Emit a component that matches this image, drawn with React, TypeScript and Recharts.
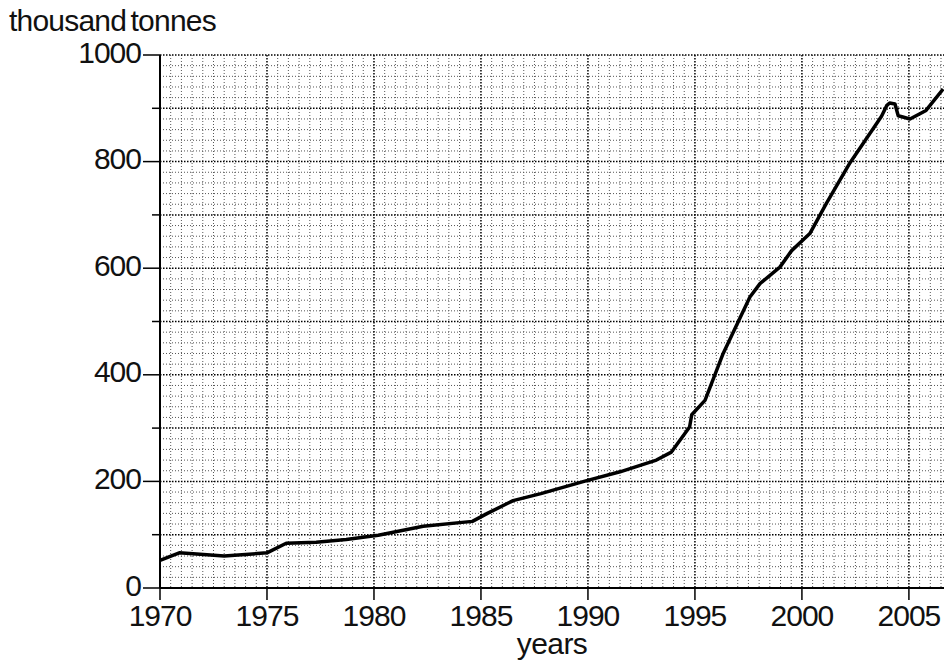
import { LineChart, Line, XAxis, YAxis, CartesianGrid } from "recharts";

// years (fractional where the curve bends between whole years)
const years = [
  1970, 1970.9, 1973, 1975, 1975.9, 1977.3, 1978.7, 1980.2, 1982.3, 1984.6,
  1985.3, 1986.5, 1987.8, 1989.9, 1991.5, 1993.2, 1993.9, 1994.75, 1994.85, 1995.47,
  1996.32, 1997.57, 1998.04, 1998.97, 1999.52, 2000.37, 2001.15, 2002.25, 2003.5, 2003.72,
  2003.96, 2004.1, 2004.35, 2004.5, 2005.05, 2005.8, 2006.6,
];
// thousand tonnes
const tonnes = [
  52, 66, 60, 66, 84, 86, 91, 99, 116, 125,
  140, 164, 177, 201, 218, 240, 255, 302, 325, 352,
  440, 546, 571, 602, 633, 665, 722, 798, 872, 885,
  905, 910, 908, 886, 880, 896, 936,
];

const xTicks = [1970, 1975, 1980, 1985, 1990, 1995, 2000, 2005];
const yTicks = [0, 100, 200, 300, 400, 500, 600, 700, 800, 900, 1000];
const yLabelled = [0, 200, 400, 600, 800, 1000];

const X_MIN = 1970;
const X_MAX = 2006.64;

const data = years.map((year, i) => ({ year, value: tonnes[i] }));

// graph paper: fine lines every half year / 20 kt, dark every 5 years / 100 kt
const minorV: number[] = [];
for (let i = 1; X_MIN + i * 0.5 <= X_MAX; i++) {
  if (i % 10 !== 0) minorV.push(X_MIN + i * 0.5);
}
const majorV = xTicks.filter(t => t > X_MIN);
const minorH: number[] = [];
for (let v = 20; v < 1000; v += 20) {
  if (v % 100 !== 0) minorH.push(v);
}
const majorH = yTicks.filter(t => t > 0);

const font = '"Liberation Sans", Arial, Helvetica, sans-serif';

function YTick(props: any) {
  const { x, y, payload } = props;
  const big = yLabelled.includes(payload.value);
  return (
    <g>
      <line x1={x - (big ? 17 : 8)} x2={x} y1={y} y2={y} stroke="#000" strokeWidth={1.5} />
      {big && (
        <text x={x - 19} y={y + 7.5} textAnchor="end" fontSize={30} letterSpacing={-1} fill="#111" fontFamily={font}>
          {payload.value}
        </text>
      )}
    </g>
  );
}

export default function App() {
  return (
    <div style={{ position: "absolute", left: 0, top: 0, width: 944, height: 666, background: "#fff", fontFamily: font, overflow: "hidden" }}>
      <div style={{ position: "absolute", left: 9, top: 6, fontSize: 30, lineHeight: "30px", color: "#111", letterSpacing: -0.8, wordSpacing: -3, whiteSpace: "nowrap" }}>
        thousand tonnes
      </div>
      <div style={{ position: "absolute", left: 452, width: 200, textAlign: "center", top: 634, fontSize: 30, lineHeight: "20px", color: "#111", letterSpacing: -0.6 }}>
        years
      </div>
      <LineChart width={944} height={666} data={data} margin={{ top: 55, right: 0, bottom: 0, left: 0 }}>
        <CartesianGrid horizontalValues={minorH} verticalValues={minorV} stroke="#555" strokeDasharray="1 2" strokeWidth={1} />
        <CartesianGrid horizontalValues={majorH} verticalValues={majorV} stroke="#000" strokeDasharray="1.5 1.5" strokeWidth={1.5} />
        <XAxis
          dataKey="year"
          type="number"
          domain={[X_MIN, X_MAX]}
          ticks={xTicks}
          interval={0}
          allowDataOverflow
          height={78}
          tickSize={12}
          tickMargin={5}
          axisLine={{ stroke: "#000", strokeWidth: 2 }}
          tickLine={{ stroke: "#000", strokeWidth: 1.5 }}
          tick={{ fontSize: 30, letterSpacing: -1, fill: "#111", fontFamily: font }}
        />
        <YAxis
          type="number"
          domain={[0, 1000]}
          ticks={yTicks}
          interval={0}
          width={160}
          tickSize={0}
          tickMargin={0}
          tickLine={false}
          axisLine={{ stroke: "#000", strokeWidth: 2 }}
          tick={<YTick />}
        />
        <Line
          dataKey="value"
          type="linear"
          stroke="#000"
          strokeWidth={3.5}
          strokeLinejoin="round"
          dot={false}
          activeDot={false}
          isAnimationActive={false}
        />
      </LineChart>
    </div>
  );
}
